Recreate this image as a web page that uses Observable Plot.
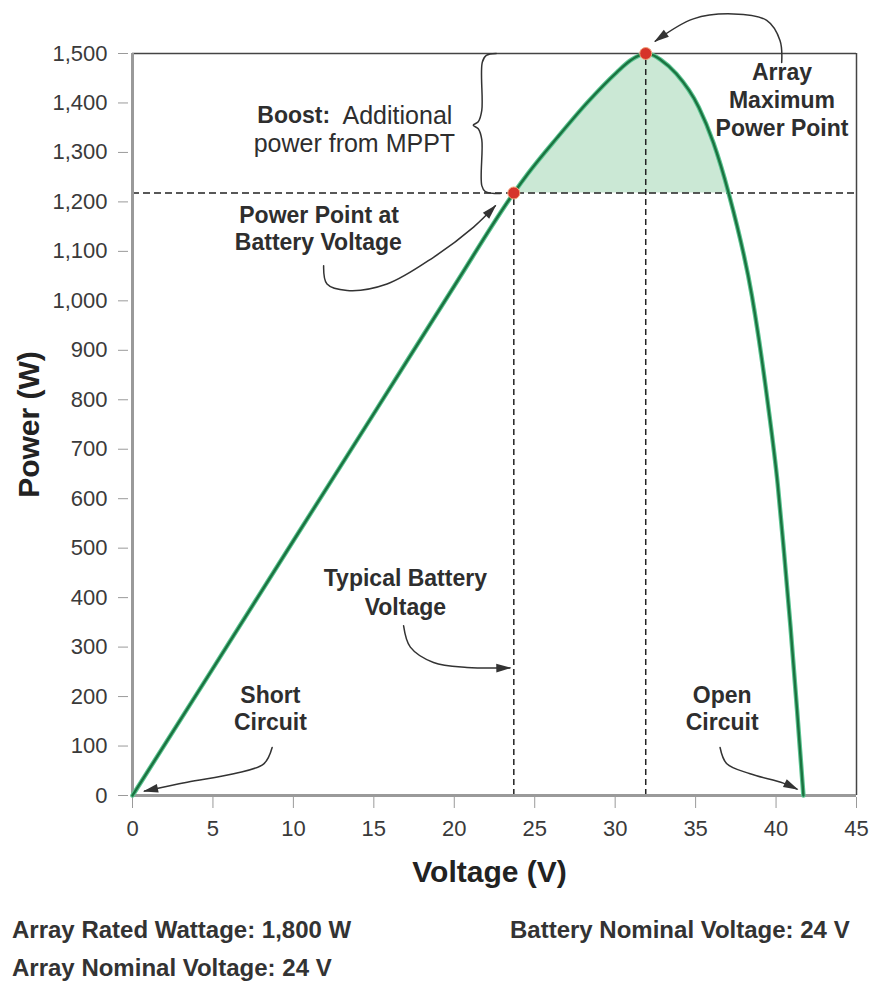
<!DOCTYPE html>
<html><head><meta charset="utf-8">
<script src="https://cdn.jsdelivr.net/npm/d3@7"></script>
<script src="https://cdn.jsdelivr.net/npm/@observablehq/plot@0.6"></script>
<style>
body{margin:0;background:#fff;width:873px;height:981px;overflow:hidden}
#footer{position:relative;height:86px;font-family:"Liberation Sans",Arial,sans-serif;font-weight:bold;font-size:24px;color:#333;}
#footer div{position:absolute;white-space:nowrap;line-height:38px}
</style></head><body>
<div id="chart"></div>
<div id="footer"></div>
<script>
// ---- data ----
const voltage = [0, 5, 10, 15, 20, 23.7, 24.6, 26.4, 28.3, 30.1, 30.95, 31.5, 31.9, 32.4, 32.8, 33.8, 35.2, 36.1, 37.05, 38.5, 39.5, 40.1, 40.5, 40.9, 41.3, 41.7];
const power   = [0, 257, 515, 772, 1030, 1218, 1258, 1330, 1402, 1462, 1486, 1496, 1500, 1496, 1488, 1459, 1391, 1320, 1218, 1010, 790, 630, 490, 340, 175, 0];
const xTicks = [0, 5, 10, 15, 20, 25, 30, 35, 40, 45];
const yTicks = [0, 100, 200, 300, 400, 500, 600, 700, 800, 900, 1000, 1100, 1200, 1300, 1400, 1500];
const batteryPoint = {V: 23.7, P: 1218};
const maxPoint = {V: 31.9, P: 1500};
const axisTitles = {x: "Voltage (V)", y: "Power (W)"};

// annotation text (in data units)
const boldLabels = [
  {text: "Power Point at", V: 11.6, P: 1172},
  {text: "Battery Voltage", V: 11.55, P: 1118},
  {text: "Array", V: 40.37, P: 1461},
  {text: "Maximum", V: 40.37, P: 1405},
  {text: "Power Point", V: 40.37, P: 1348},
  {text: "Typical Battery", V: 16.96, P: 438},
  {text: "Voltage", V: 16.96, P: 380},
  {text: "Short", V: 8.57, P: 202},
  {text: "Circuit", V: 8.57, P: 148},
  {text: "Open", V: 36.65, P: 202},
  {text: "Circuit", V: 36.65, P: 148}
];
const boostLabel = {bold: "Boost:", rest: "Additional", line2: "power from MPPT", V0: 7.76, V1: 19.88, Vc: 13.79, P1: 1374, P2: 1317};

// curved arrows (data units)
const arrowShort = {V: [8.68, 8.16, 6.29, 3.40, 0.75], P: [97, 64, 44, 27, 9]};
const arrowBattery = {V: [16.85, 17.27, 18.71, 20.79, 23.45], P: [343, 300, 269, 259, 258]};
const arrowOpen = {V: [36.52, 36.94, 38.39, 40.45, 41.3], P: [97, 64, 44, 25, 13]};
const arrowPowerPoint = {V: [11.88, 12.09, 13.34, 15.82, 18.71, 21.2, 22.55], P: [1071, 1034, 1021, 1034, 1088, 1149, 1192]};
const arrowMax = {V: [40.35, 40.25, 39.42, 37.35, 34.86, 32.5], P: [1482, 1526, 1567, 1580, 1570, 1525]};
const brace = {
  V: [22.61, 21.99, 21.74, 21.71, 21.49, 21.18, 21.49, 21.71, 21.71, 21.93, 22.86],
  P: [1500, 1496, 1482, 1385, 1362, 1355, 1348, 1326, 1233, 1221, 1217]
};
const footerLeft = ["Array Rated Wattage: 1,800 W", "Array Nominal Voltage: 24 V"];
const footerRight = ["Battery Nominal Voltage: 24 V"];

// ---- build tables ----
const curve = voltage.map((V, i) => ({V, P: power[i]}));
const toPts = a => a.V.map((V, i) => ({V, P: a.P[i]}));
const arrows = [arrowShort, arrowBattery, arrowOpen, arrowPowerPoint, arrowMax];

const FONT = '"Liberation Sans", Arial, sans-serif';
const ink = "#2e2e2e";

const chart = Plot.plot({
  width: 873,
  height: 895,
  marginLeft: 132,
  marginRight: 17,
  marginTop: 53,
  marginBottom: 100,
  x: {domain: [0, 45], label: null},
  y: {domain: [0, 1500], label: null},
  style: {fontFamily: FONT, background: "#fff", overflow: "visible"},
  marks: [
    Plot.areaY(curve.filter(d => d.P >= batteryPoint.P), {x: "V", y1: batteryPoint.P, y2: "P", curve: "monotone-x", fill: "#cbe8d5"}),
    Plot.ruleY([batteryPoint.P], {x1: 0, x2: 45, stroke: "#222", strokeWidth: 1.5, strokeDasharray: "7,4"}),
    Plot.ruleX([batteryPoint.V], {y1: 0, y2: batteryPoint.P, stroke: "#222", strokeWidth: 1.5, strokeDasharray: "6,4"}),
    Plot.ruleX([maxPoint.V], {y1: 0, y2: maxPoint.P, stroke: "#222", strokeWidth: 1.5, strokeDasharray: "6,4"}),
    Plot.ruleY([maxPoint.P], {x1: 0, x2: 45, stroke: "#444", strokeWidth: 1.5}),
    Plot.ruleX([45], {y1: 0, y2: 1500, stroke: "#444", strokeWidth: 1.5}),
    Plot.ruleX([0], {y1: 0, y2: 1500, stroke: "#9a9a9a", strokeWidth: 3}),
    Plot.ruleY([0], {x1: 0, x2: 45, stroke: "#9a9a9a", strokeWidth: 3}),
    Plot.axisY({ticks: yTicks, tickSize: 10, dx: -4, tickPadding: 11, fontSize: 22, stroke: "#9a9a9a", fill: "#3a3a3a", tickFormat: d3.format(","), label: null}),
    Plot.axisX({ticks: xTicks, tickSize: 11, dy: 2, tickPadding: 12, fontSize: 22, stroke: "#9a9a9a", fill: "#3a3a3a", label: null}),
    Plot.line(curve, {x: "V", y: "P", curve: "monotone-x", stroke: "#5cc592", strokeWidth: 4.5}),
    Plot.line(curve, {x: "V", y: "P", curve: "monotone-x", stroke: "#1b7340", strokeWidth: 2.4}),
    Plot.line(toPts(brace), {x: "V", y: "P", curve: "catmull-rom", stroke: "#333", strokeWidth: 1.5}),
    ...arrows.map(a => Plot.line(toPts(a), {x: "V", y: "P", curve: "catmull-rom", stroke: "#333", strokeWidth: 1.5, markerEnd: "arrow"})),
    Plot.dot([batteryPoint, maxPoint], {x: "V", y: "P", r: 6, fill: "#d6342a", stroke: "#f2a27a", strokeWidth: 1}),
    Plot.text(boldLabels, {x: "V", y: "P", text: "text", fontSize: 23, fontWeight: "bold", fill: ink, lineAnchor: "middle"}),
    Plot.text([boostLabel], {x: "V0", y: "P1", text: "bold", fontSize: 23, fontWeight: "bold", fill: ink, textAnchor: "start", lineAnchor: "middle"}),
    Plot.text([boostLabel], {x: "V1", y: "P1", text: "rest", fontSize: 25, fill: ink, textAnchor: "end", lineAnchor: "middle"}),
    Plot.text([boostLabel], {x: "Vc", y: "P2", text: "line2", fontSize: 25, fill: ink, lineAnchor: "middle"}),
    Plot.text([axisTitles.y], {frameAnchor: "left", dx: -103, rotate: -90, textAnchor: "middle", fontSize: 30, fontWeight: "bold", fill: "#222", lineAnchor: "middle"}),
    Plot.text([axisTitles.x], {frameAnchor: "bottom", dx: -5, dy: 77, textAnchor: "middle", fontSize: 30, fontWeight: "bold", fill: "#222", lineAnchor: "middle"})
  ]
});

// filled arrowheads
chart.querySelectorAll("marker").forEach(m => {
  m.setAttribute("fill", "#333");
  m.setAttribute("stroke", "none");
  m.setAttribute("markerWidth", 18);
  m.setAttribute("markerHeight", 18);
  m.setAttribute("overflow", "visible");
  const p = m.querySelector("path");
  if (p) p.setAttribute("d", "M-5,-1.6L0.6,0L-5,1.6Z");
});
document.getElementById("chart").appendChild(chart);

const footer = document.getElementById("footer");
footerLeft.forEach((t, i) => {
  const d = document.createElement("div");
  d.textContent = t; d.style.left = "12px"; d.style.top = (16 + 38 * i) + "px";
  footer.appendChild(d);
});
footerRight.forEach((t, i) => {
  const d = document.createElement("div");
  d.textContent = t; d.style.left = "510px"; d.style.top = (16 + 38 * i) + "px";
  footer.appendChild(d);
});
</script>
</body></html>
